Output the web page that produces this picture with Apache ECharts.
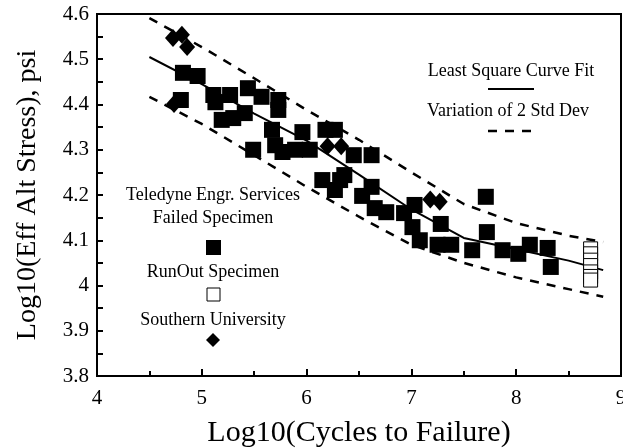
<!DOCTYPE html>
<html>
<head>
<meta charset="utf-8">
<script src="https://cdn.jsdelivr.net/npm/echarts@6/dist/echarts.min.js"></script>
<style>
  html, body { margin: 0; padding: 0; background: #fff; }
  #chart { width: 623px; height: 448px; }
</style>
</head>
<body>
<div id="chart"></div>
<script>
// Teledyne Engr. Services failed specimens: [log10 cycles, log10 stress]
const failedSpecimens = [
  [4.80, 4.410], [4.82, 4.470], [4.96, 4.463], [5.11, 4.421], [5.13, 4.405],
  [5.27, 4.421], [5.44, 4.436], [5.57, 4.417], [5.73, 4.410], [5.73, 4.388],
  [5.19, 4.366], [5.30, 4.370], [5.41, 4.381], [5.49, 4.300], [5.67, 4.344],
  [5.70, 4.310], [5.77, 4.295], [5.89, 4.300], [5.96, 4.339], [6.03, 4.300],
  [6.18, 4.344], [6.27, 4.344], [6.45, 4.288], [6.62, 4.288], [6.15, 4.233],
  [6.32, 4.233], [6.27, 4.211], [6.36, 4.244], [6.53, 4.198], [6.62, 4.218],
  [6.65, 4.171], [6.76, 4.162], [6.93, 4.160], [7.03, 4.178], [7.01, 4.129],
  [7.08, 4.100], [7.28, 4.136], [7.25, 4.090], [7.38, 4.090], [7.71, 4.196],
  [7.72, 4.118], [7.58, 4.078], [7.87, 4.078], [8.02, 4.070], [8.13, 4.090],
  [8.30, 4.083], [8.33, 4.041]
];

// Run-out specimens (did not fail)
const runOutSpecimens = [
  [8.71, 4.081], [8.71, 4.070], [8.71, 4.056], [8.71, 4.044],
  [8.71, 4.030], [8.71, 4.020], [8.71, 4.012]
];

// Southern University specimens
const southernUniversity = [
  [4.725, 4.547], [4.81, 4.554], [4.86, 4.527], [4.735, 4.401],
  [6.20, 4.308], [6.33, 4.308], [7.18, 4.190], [7.27, 4.185]
];

// Least square curve fit and the +/- 2 standard deviation band
const fitX = [4.5, 5.0, 5.5, 6.0, 6.5, 7.0, 7.5, 8.0, 8.5, 8.83];
const fitMean = [4.505, 4.445, 4.380, 4.320, 4.245, 4.168, 4.105, 4.080, 4.055, 4.034];
const fitUpper = [4.591, 4.527, 4.458, 4.388, 4.322, 4.250, 4.180, 4.138, 4.110, 4.096];
const fitLower = [4.417, 4.357, 4.288, 4.218, 4.152, 4.090, 4.050, 4.018, 3.992, 3.975];

// Axis ticks
const xTicks = [4, 5, 6, 7, 8, 9];
const yTicks = [3.8, 3.9, 4.0, 4.1, 4.2, 4.3, 4.4, 4.5, 4.6];

const serif = '"Liberation Serif", "DejaVu Serif", serif';
const pair = (xs, ys) => xs.map((x, i) => [x, ys[i]]);

const chart = echarts.init(document.getElementById('chart'), null, { renderer: 'canvas' });

chart.setOption({
  animation: false,
  backgroundColor: '#fff',
  grid: {
    left: 97, right: 2, top: 14, bottom: 72,
    outerBoundsMode: 'none',
    containLabel: false,
    show: true, borderColor: '#000', borderWidth: 2, backgroundColor: 'transparent'
  },
  xAxis: {
    type: 'value',
    min: xTicks[0],
    max: xTicks[xTicks.length - 1],
    interval: 1,
    name: 'Log10(Cycles to Failure)',
    nameLocation: 'middle',
    nameGap: 42,
    nameTextStyle: { fontFamily: serif, fontSize: 30, color: '#000' },
    axisLine: { lineStyle: { color: '#000', width: 2 } },
    axisTick: { inside: true, length: 7, lineStyle: { color: '#000', width: 2 } },
    minorTick: { show: true, splitNumber: 2, length: 5, lineStyle: { color: '#000', width: 2 } },
    axisLabel: { fontFamily: serif, fontSize: 21, color: '#000', margin: 12, hideOverlap: false },
    splitLine: { show: false }
  },
  yAxis: {
    type: 'value',
    min: yTicks[0],
    max: yTicks[yTicks.length - 1],
    interval: 0.1,
    name: 'Log10(Eff Alt Stress), psi',
    nameLocation: 'middle',
    nameGap: 55,
    nameTextStyle: { fontFamily: serif, fontSize: 28, color: '#000' },
    axisLine: { lineStyle: { color: '#000', width: 2 } },
    axisTick: { inside: true, length: 6, lineStyle: { color: '#000', width: 2 } },
    minorTick: { show: true, splitNumber: 2, length: 6, lineStyle: { color: '#000', width: 2 } },
    axisLabel: {
      fontFamily: serif, fontSize: 21, color: '#000', margin: 8, hideOverlap: false,
      formatter: v => String(Math.round(v * 10) / 10)
    },
    splitLine: { show: false }
  },
  series: [
    {
      name: 'Least Square Curve Fit',
      type: 'line',
      data: pair(fitX, fitMean),
      showSymbol: false,
      lineStyle: { color: '#000', width: 2 },
      z: 3
    },
    {
      name: 'Upper 2 Std Dev',
      type: 'line',
      data: pair(fitX, fitUpper),
      showSymbol: false,
      lineStyle: { color: '#000', width: 2.5, type: [9, 8] },
      z: 3
    },
    {
      name: 'Lower 2 Std Dev',
      type: 'line',
      data: pair(fitX, fitLower),
      showSymbol: false,
      lineStyle: { color: '#000', width: 2.5, type: [9, 8] },
      z: 3
    },
    {
      name: 'Failed Specimen',
      type: 'scatter',
      data: failedSpecimens,
      symbol: 'rect',
      symbolSize: 16,
      itemStyle: { color: '#000', opacity: 1 },
      z: 4
    },
    {
      name: 'RunOut Specimen',
      type: 'scatter',
      data: runOutSpecimens,
      symbol: 'rect',
      symbolSize: 14,
      itemStyle: { color: '#fff', borderColor: '#000', borderWidth: 1, opacity: 1 },
      z: 4
    },
    {
      name: 'Southern University',
      type: 'scatter',
      data: southernUniversity,
      symbol: 'diamond',
      symbolSize: [16, 18],
      itemStyle: { color: '#000', opacity: 1 },
      z: 5
    }
  ],
  graphic: [
    // Curve legend (upper right)
    { type: 'text', x: 511, y: 71, style: { text: 'Least Square Curve Fit', font: '18px ' + serif, fill: '#000', align: 'center', verticalAlign: 'middle' } },
    { type: 'line', shape: { x1: 488, y1: 89, x2: 534, y2: 89 }, style: { stroke: '#000', lineWidth: 2 } },
    { type: 'text', x: 508, y: 111, style: { text: 'Variation of 2 Std Dev', font: '18px ' + serif, fill: '#000', align: 'center', verticalAlign: 'middle' } },
    { type: 'line', shape: { x1: 488, y1: 131, x2: 534, y2: 131 }, style: { stroke: '#000', lineWidth: 2.5, lineDash: [9, 8] } },

    // Specimen legend (lower left)
    { type: 'text', x: 213, y: 195, style: { text: 'Teledyne Engr. Services', font: '18px ' + serif, fill: '#000', align: 'center', verticalAlign: 'middle' } },
    { type: 'text', x: 213, y: 218, style: { text: 'Failed Specimen', font: '18px ' + serif, fill: '#000', align: 'center', verticalAlign: 'middle' } },
    { type: 'rect', shape: { x: 206, y: 240, width: 15, height: 15 }, style: { fill: '#000' } },
    { type: 'text', x: 213, y: 272, style: { text: 'RunOut Specimen', font: '18px ' + serif, fill: '#000', align: 'center', verticalAlign: 'middle' } },
    { type: 'rect', shape: { x: 207, y: 288, width: 13, height: 13 }, style: { fill: '#fff', stroke: '#000', lineWidth: 1 } },
    { type: 'text', x: 213, y: 320, style: { text: 'Southern University', font: '18px ' + serif, fill: '#000', align: 'center', verticalAlign: 'middle' } },
    { type: 'polygon', shape: { points: [[213, 333], [220, 340], [213, 347], [206, 340]] }, style: { fill: '#000' } }
  ]
});
</script>
</body>
</html>
